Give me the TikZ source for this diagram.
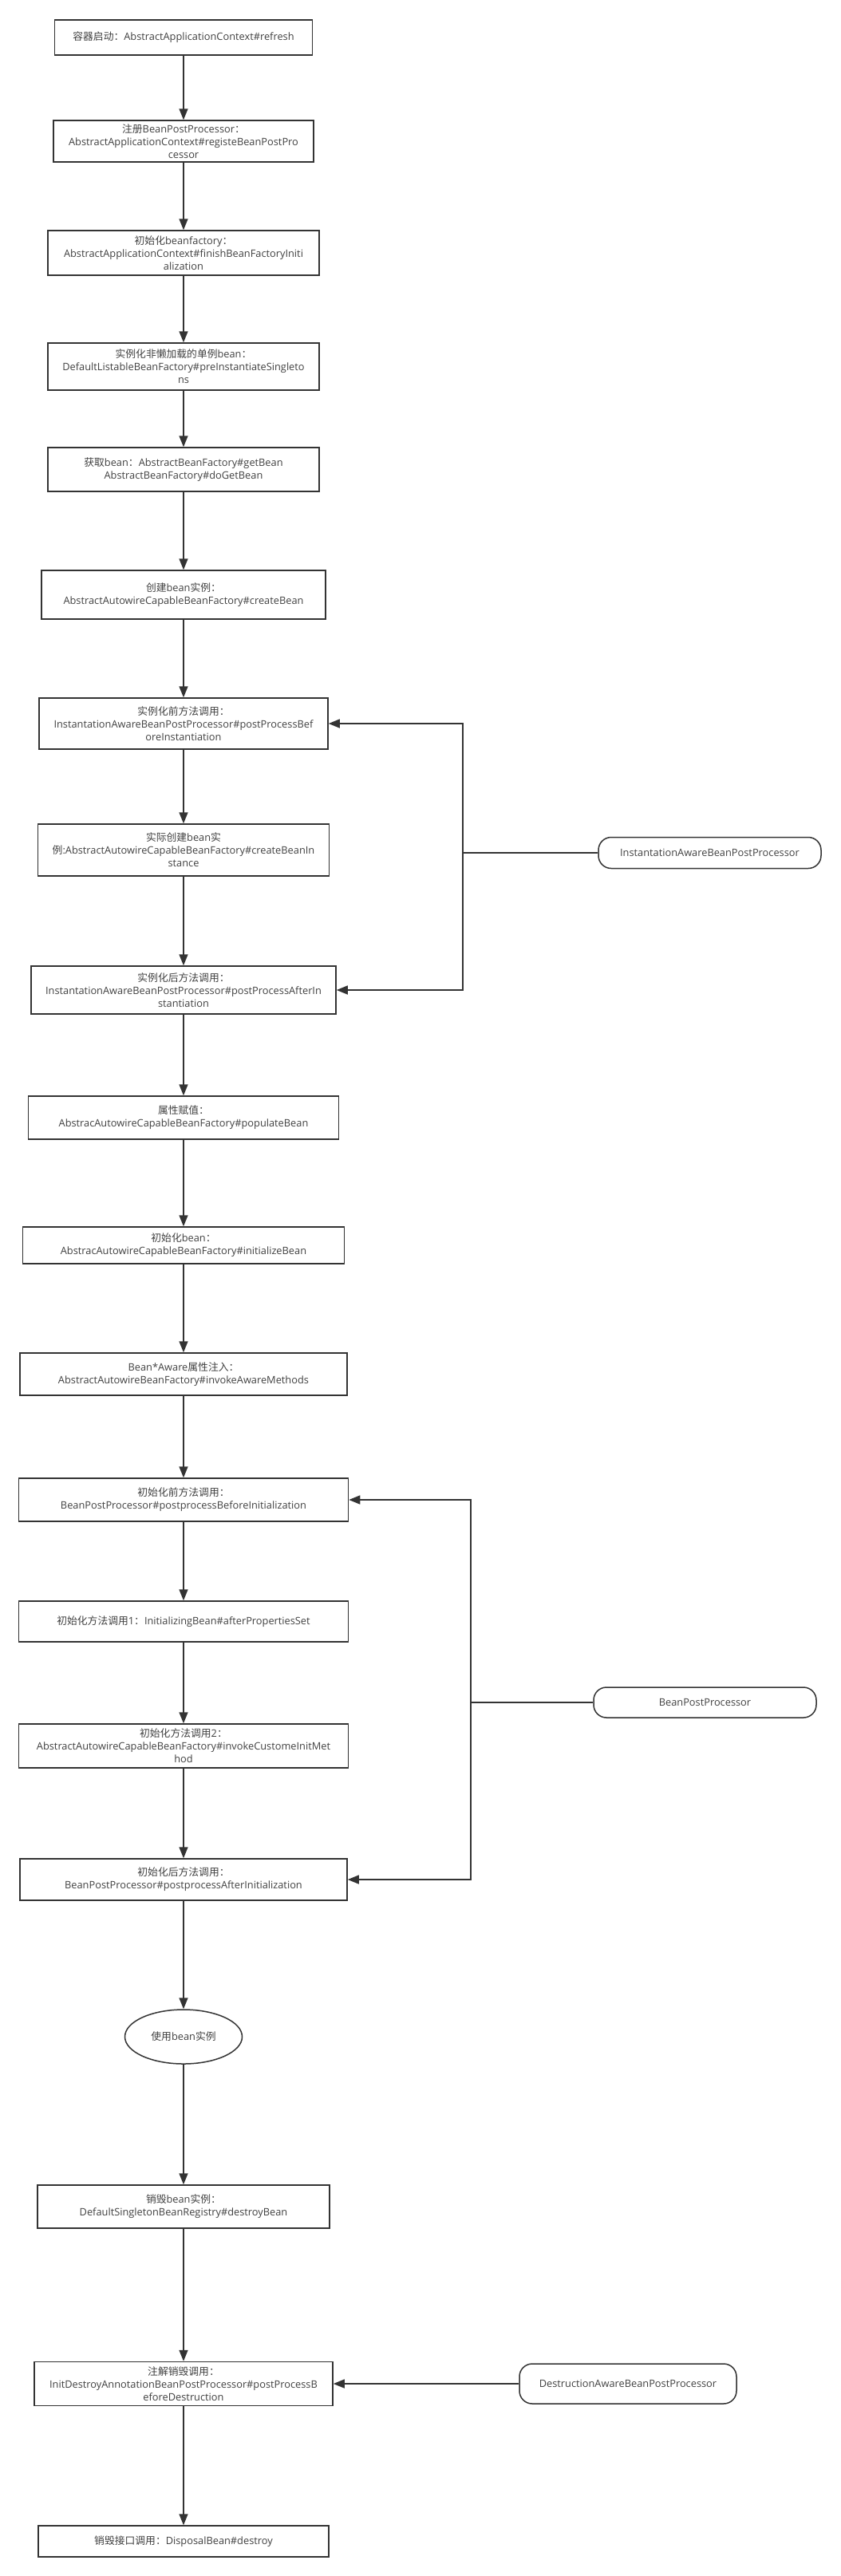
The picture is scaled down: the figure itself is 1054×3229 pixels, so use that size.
\documentclass[tikz,border=0pt]{standalone}
\usepackage{fontspec}
\setmainfont{Open Sans}
\newfontfamily\cjk{Noto Sans CJK SC}
\usetikzlibrary{arrows.meta,shapes.geometric}
\definecolor{linegray}{HTML}{333333}
\definecolor{textgray}{HTML}{404040}

\begin{document}
\begin{tikzpicture}[x=1pt,y=-1pt]
        \tikzstyle{every node}=[font=\fontsize{12.8}{16}\selectfont, text=textgray, align=center]
        \tikzstyle{stepbox}=[draw=linegray, line width=1.5pt, rectangle, inner sep=0pt]
        \tikzstyle{procbox}=[draw=linegray, line width=1.5pt, rounded corners=16pt, inner sep=0pt]
        \tikzstyle{usebox}=[draw=linegray, line width=1.5pt, ellipse, inner sep=0pt]
        \tikzstyle{link}=[draw=linegray, line width=1.5pt]
        \tikzstyle{flow}=[link, -{Triangle[length=14pt,width=11pt]}]
        \useasboundingbox (0,0) rectangle (1054,3229);
        % main flow
        \node[stepbox, minimum width=323pt, minimum height=44pt] (refresh) at (230,47) {{\cjk 容器启动：}AbstractApplicationContext\#refresh};
        \node[stepbox, minimum width=326pt, minimum height=52pt] (register) at (230,177) {{\cjk 注册}BeanPostProcessor{\cjk ：}\\AbstractApplicationContext\#registeBeanPostPro\\cessor};
        \node[stepbox, minimum width=340pt, minimum height=56pt] (initfactory) at (230,317) {{\cjk 初始化}beanfactory{\cjk ：}\\AbstractApplicationContext\#finishBeanFactoryIniti\\alization};
        \node[stepbox, minimum width=340pt, minimum height=59pt] (preinst) at (230,459.5) {{\cjk 实例化非懒加载的单例}bean{\cjk ：}\\DefaultListableBeanFactory\#preInstantiateSingleto\\ns};
        \node[stepbox, minimum width=340pt, minimum height=55pt] (getbean) at (230,588.5) {{\cjk 获取}bean{\cjk ：}AbstractBeanFactory\#getBean\\AbstractBeanFactory\#doGetBean};
        \node[stepbox, minimum width=356pt, minimum height=61pt] (createbean) at (230,745.5) {{\cjk 创建}bean{\cjk 实例：}\\AbstractAutowireCapableBeanFactory\#createBean};
        \node[stepbox, minimum width=362pt, minimum height=64pt] (beforeinst) at (230,907) {{\cjk 实例化前方法调用：}\\InstantationAwareBeanPostProcessor\#postProcessBef\\oreInstantiation};
        \node[stepbox, minimum width=365pt, minimum height=65pt] (doinst) at (230,1065.5) {{\cjk 实际创建}bean{\cjk 实}\\{\cjk 例}:AbstractAutowireCapableBeanFactory\#createBeanIn\\stance};
        \node[stepbox, minimum width=382pt, minimum height=60pt] (afterinst) at (230,1241) {{\cjk 实例化后方法调用：}\\InstantationAwareBeanPostProcessor\#postProcessAfterIn\\stantiation};
        \node[stepbox, minimum width=389pt, minimum height=54pt] (populate) at (230,1401) {{\cjk 属性赋值：}\\AbstracAutowireCapableBeanFactory\#populateBean};
        \node[stepbox, minimum width=403pt, minimum height=46pt] (initbean) at (230,1561) {{\cjk 初始化}bean{\cjk ：}\\AbstracAutowireCapableBeanFactory\#initializeBean};
        \node[stepbox, minimum width=410pt, minimum height=53pt] (aware) at (230,1722.5) {Bean*Aware{\cjk 属性注入：}\\AbstractAutowireBeanFactory\#invokeAwareMethods};
        \node[stepbox, minimum width=413pt, minimum height=54pt] (beforeinit) at (230,1880) {{\cjk 初始化前方法调用：}\\BeanPostProcessor\#postprocessBeforeInitialization};
        \node[stepbox, minimum width=413pt, minimum height=51pt] (initone) at (230,2032.5) {{\cjk 初始化方法调用}1{\cjk ：}InitializingBean\#afterPropertiesSet};
        \node[stepbox, minimum width=413pt, minimum height=55pt] (inittwo) at (230,2188.5) {{\cjk 初始化方法调用}2{\cjk ：}\\AbstractAutowireCapableBeanFactory\#invokeCustomeInitMet\\hod};
        \node[stepbox, minimum width=410pt, minimum height=52pt] (afterinit) at (230,2356) {{\cjk 初始化后方法调用：}\\BeanPostProcessor\#postprocessAfterInitialization};
        \node[usebox, minimum width=147pt, minimum height=68pt] (usebean) at (230,2553) {{\cjk 使用}bean{\cjk 实例}};
        \node[stepbox, minimum width=366pt, minimum height=54pt] (destroybean) at (230,2766) {{\cjk 销毁}bean{\cjk 实例：}\\DefaultSingletonBeanRegistry\#destroyBean};
        \node[stepbox, minimum width=374pt, minimum height=55pt] (annodestroy) at (230,2988) {{\cjk 注解销毁调用：}\\InitDestroyAnnotationBeanPostProcessor\#postProcessB\\eforeDestruction};
        \node[stepbox, minimum width=364pt, minimum height=39pt] (disposal) at (230,3185.5) {{\cjk 销毁接口调用：}DisposalBean\#destroy};
        \draw[flow] (refresh) -- (register);
        \draw[flow] (register) -- (initfactory);
        \draw[flow] (initfactory) -- (preinst);
        \draw[flow] (preinst) -- (getbean);
        \draw[flow] (getbean) -- (createbean);
        \draw[flow] (createbean) -- (beforeinst);
        \draw[flow] (beforeinst) -- (doinst);
        \draw[flow] (doinst) -- (afterinst);
        \draw[flow] (afterinst) -- (populate);
        \draw[flow] (populate) -- (initbean);
        \draw[flow] (initbean) -- (aware);
        \draw[flow] (aware) -- (beforeinit);
        \draw[flow] (beforeinit) -- (initone);
        \draw[flow] (initone) -- (inittwo);
        \draw[flow] (inittwo) -- (afterinit);
        \draw[flow] (afterinit) -- (usebean);
        \draw[flow] (usebean) -- (destroybean);
        \draw[flow] (destroybean) -- (annodestroy);
        \draw[flow] (annodestroy) -- (disposal);
        % processors on the right
        \node[procbox, minimum width=279pt, minimum height=39pt] (instpp) at (889.5,1069) {InstantationAwareBeanPostProcessor};
        \node[procbox, minimum width=279pt, minimum height=38pt] (beanpp) at (883.5,2134) {BeanPostProcessor};
        \node[procbox, minimum width=272pt, minimum height=50pt] (destpp) at (787,2988) {DestructionAwareBeanPostProcessor};
        \coordinate (instjoin) at (580,1069);
        \coordinate (beanjoin) at (590,2134);
        \draw[link] (instpp) -- (instjoin);
        \draw[flow] (instjoin) |- (beforeinst);
        \draw[flow] (instjoin) |- (afterinst);
        \draw[link] (beanpp) -- (beanjoin);
        \draw[flow] (beanjoin) |- (beforeinit);
        \draw[flow] (beanjoin) |- (afterinit);
        \draw[flow] (destpp) -- (annodestroy);
    \end{tikzpicture}
\end{document}
